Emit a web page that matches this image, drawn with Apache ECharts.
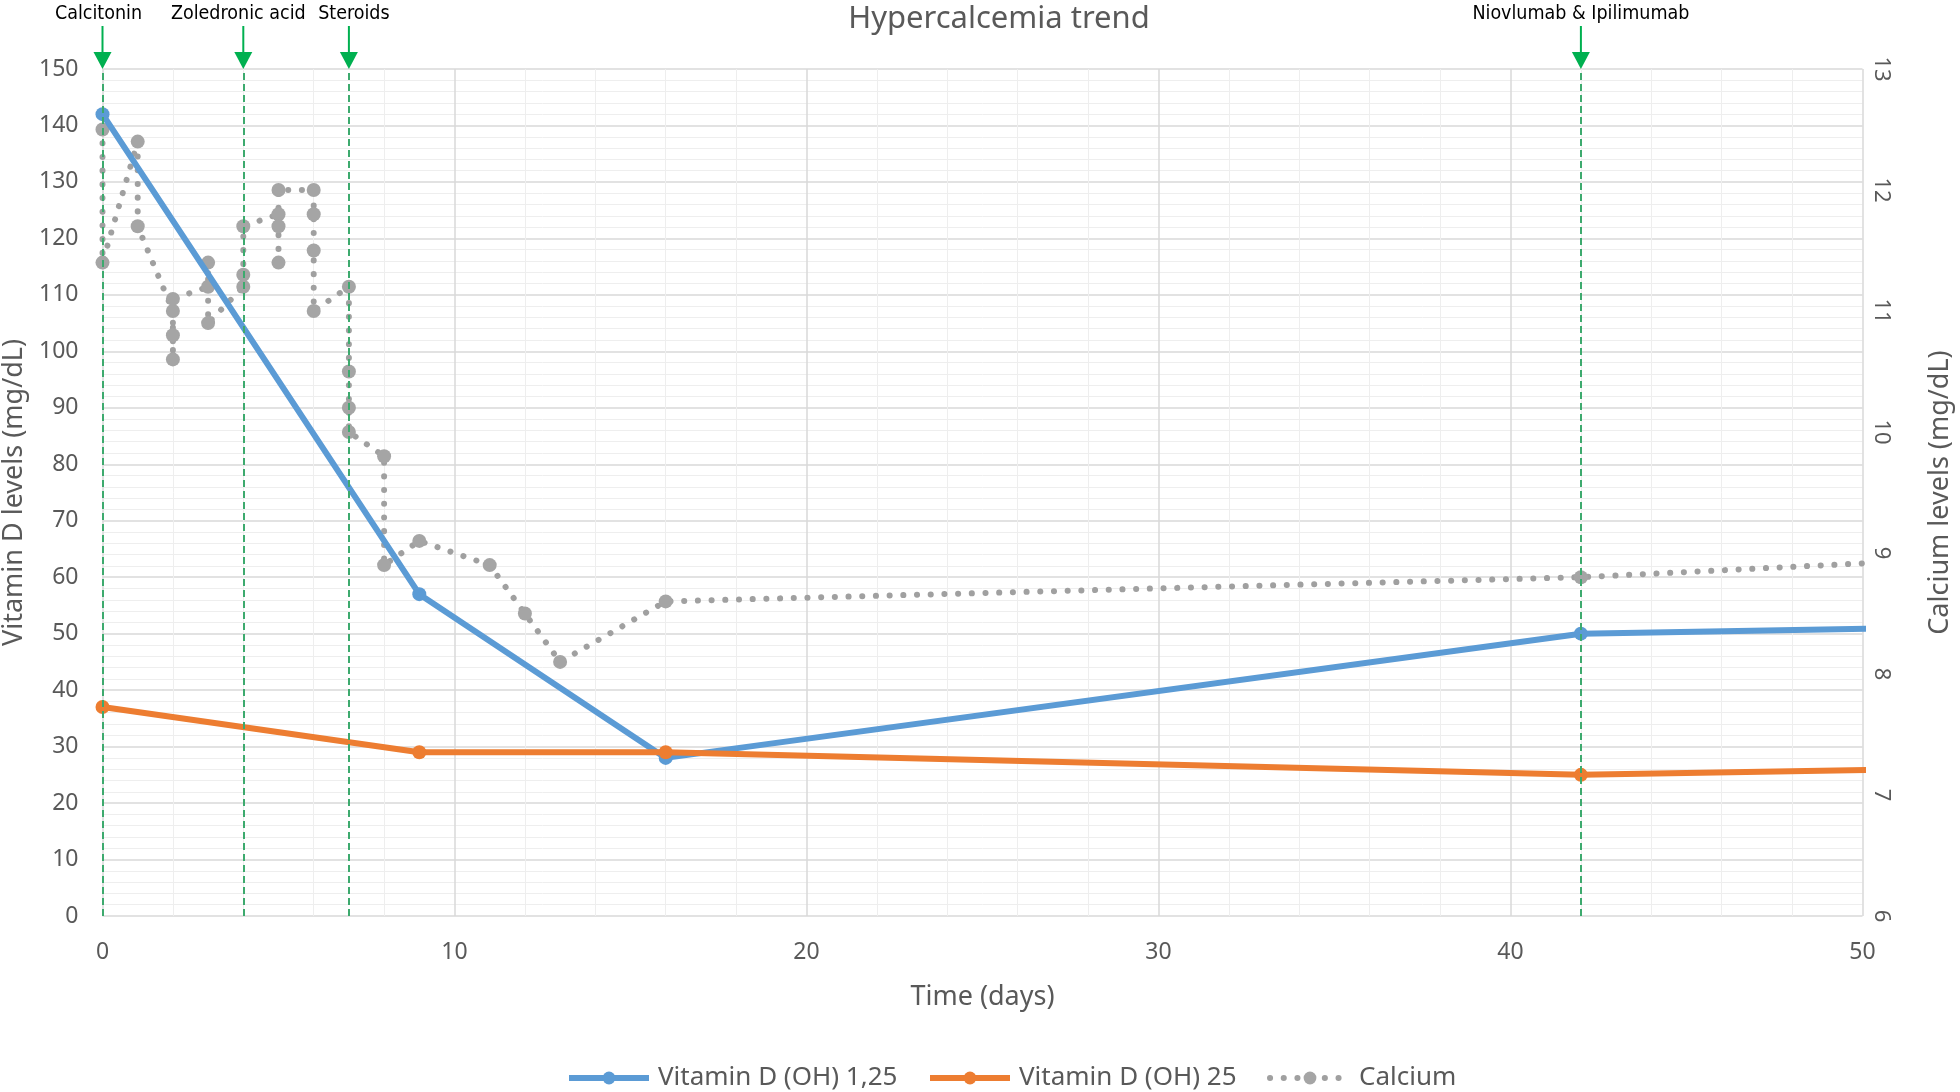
<!DOCTYPE html>
<html>
<head>
<meta charset="utf-8">
<title>Hypercalcemia trend</title>
<script src="https://cdn.jsdelivr.net/npm/echarts@6/dist/echarts.min.js"></script>
<style>
  html, body { margin: 0; padding: 0; background: #fff; }
  #chart { width: 1960px; height: 1092px; }
</style>
</head>
<body>
<div id="chart"></div>
<script>
// Vitamin D (OH) 1,25 - left axis
var vitD125Days = [0, 9, 16, 42, 56];
var vitD125Values = [142, 57, 28, 50, 51.5];

// Vitamin D (OH) 25 - left axis
var vitD25Days = [0, 9, 16, 42, 56];
var vitD25Values = [37, 29, 29, 25, 26.5];

// Calcium - right axis, several readings per day early on (in draw order)
var calciumDays = [0, 0, 1, 1, 2, 2, 2, 2, 3, 3, 3, 4, 4, 4, 5, 5, 5, 5,
  6, 6, 6, 6, 7, 7, 7, 7, 8, 8, 9, 11, 12, 13, 16, 42, 56];
var calciumValues = [12.5, 11.4, 12.4, 11.7, 11.0, 10.8, 10.6, 11.1, 11.2, 11.4, 10.9,
  11.2, 11.3, 11.7, 11.8, 11.7, 11.4, 12.0, 12.0, 11.8, 11.5, 11.0, 11.2, 10.5, 10.2,
  10.0, 9.8, 8.9, 9.1, 8.9, 8.5, 8.1, 8.6, 8.8, 9.0];

// treatments marked on the timeline
var treatmentNames = ["Calcitonin", "Zoledronic acid", "Steroids", "Niovlumab & Ipilimumab"];
var treatmentDays = [0, 4, 7, 42];

var seriesNames = ["Vitamin D (OH) 1,25", "Vitamin D (OH) 25", "Calcium"];

function pairs(xs, ys) {
  return xs.map(function (x, i) {
    return [x, ys[i]];
  });
}

var chart = echarts.init(document.getElementById("chart"));

var labelColor = "#595959";
var font = "Noto Sans";

// legend entries sit at uneven spots like in the original
var legendLefts = [561, 922, 1262];
var legends = seriesNames.map(function (name, i) {
  return {
    data: [name],
    left: legendLefts[i],
    top: 1060,
    itemWidth: 80,
    itemHeight: 16,
    lineStyle: { width: 6 },
    textStyle: { fontSize: 26, color: labelColor, fontFamily: font, padding: [0, 0, 0, 4] },
  };
});

var option = {
  animation: false,
  title: {
    text: "Hypercalcemia trend",
    left: 994,
    top: -1,
    textAlign: "center",
    textStyle: { fontSize: 31, fontWeight: "normal", color: labelColor, fontFamily: font },
  },
  legend: legends,
  grid: { left: 102.5, right: 97.5, top: 69, bottom: 176, outerBoundsMode: "none" },
  xAxis: {
    type: "value",
    min: 0,
    max: 50,
    interval: 10,
    name: "Time (days)",
    nameLocation: "middle",
    nameGap: 68,
    nameTextStyle: { fontSize: 27, color: labelColor, fontFamily: font },
    axisLine: { show: false },
    axisTick: { show: false },
    axisLabel: { fontSize: 23, color: labelColor, fontFamily: font, margin: 25 },
    splitLine: { show: true, lineStyle: { color: "#d9d9d9", width: 1.5 } },
    minorTick: { show: false, splitNumber: 5 },
    minorSplitLine: { show: true, lineStyle: { color: "#eeeeee", width: 1 } },
  },
  yAxis: [
    {
      type: "value",
      min: 0,
      max: 150,
      interval: 10,
      name: "Vitamin D levels (mg/dL)",
      nameLocation: "middle",
      nameRotate: 90,
      nameGap: 68,
      nameTextStyle: { fontSize: 27, color: labelColor, fontFamily: font },
      axisLine: { show: false },
      axisTick: { show: false },
      axisLabel: { fontSize: 23, color: labelColor, fontFamily: font, margin: 24 },
      splitLine: { show: true, lineStyle: { color: "#d9d9d9", width: 1.5 } },
      minorTick: { show: false, splitNumber: 5 },
      minorSplitLine: { show: true, lineStyle: { color: "#eeeeee", width: 1 } },
    },
    {
      type: "value",
      position: "right",
      min: 6,
      max: 13,
      interval: 1,
      name: "Calcium levels (mg/dL)",
      nameLocation: "middle",
      nameRotate: 90,
      nameGap: 64,
      nameTextStyle: { fontSize: 27, color: labelColor, fontFamily: font },
      axisLine: { show: false },
      axisTick: { show: false },
      axisLabel: { fontSize: 22, color: labelColor, fontFamily: font, margin: 8, rotate: -90 },
      splitLine: { show: false },
    },
  ],
  series: [
    {
      name: seriesNames[0],
      type: "line",
      data: pairs(vitD125Days, vitD125Values),
      symbol: "circle",
      symbolSize: 14,
      clip: true,
      lineStyle: { color: "#5B9BD5", width: 6 },
      itemStyle: { color: "#5B9BD5" },
      z: 3,
    },
    {
      name: seriesNames[1],
      type: "line",
      data: pairs(vitD25Days, vitD25Values),
      symbol: "circle",
      symbolSize: 14,
      clip: true,
      lineStyle: { color: "#ED7D31", width: 6 },
      itemStyle: { color: "#ED7D31" },
      z: 4,
    },
    {
      name: seriesNames[2],
      type: "line",
      yAxisIndex: 1,
      data: pairs(calciumDays, calciumValues),
      symbol: "circle",
      symbolSize: 14,
      clip: true,
      lineStyle: { color: "#A0A0A0", width: 6, type: [0.1, 13.6], cap: "round" },
      itemStyle: { color: "#A5A5A5" },
      z: 2,
    },
    {
      // treatment start lines
      name: "treatments",
      type: "line",
      data: [],
      silent: true,
      z: 10,
      markLine: {
        silent: true,
        symbol: "none",
        label: { show: false },
        lineStyle: { color: "#3DAA6E", width: 2, type: [7, 4] },
        data: treatmentDays.map(function (d) {
          return { xAxis: d };
        }),
      },
    },
  ],
};

chart.setOption(option);

// arrows + labels above the plot for each treatment
var plotTop = chart.convertToPixel({ yAxisIndex: 0 }, 150);
var labelShift = [-4, -5, 5, 0];
var graphics = [];
treatmentDays.forEach(function (d, i) {
  var x = chart.convertToPixel({ xAxisIndex: 0 }, d);
  graphics.push({
    type: "text",
    x: x + labelShift[i],
    y: 14,
    style: {
      text: treatmentNames[i],
      fill: "#000",
      fontSize: 19.5,
      fontFamily: "DejaVu Sans Condensed",
      align: "center",
      verticalAlign: "middle",
    },
  });
  graphics.push({
    type: "line",
    shape: { x1: x, y1: 26, x2: x, y2: plotTop - 16 },
    style: { stroke: "#00B050", lineWidth: 2 },
  });
  graphics.push({
    type: "polygon",
    shape: { points: [[x - 9, plotTop - 17], [x + 9, plotTop - 17], [x, plotTop]] },
    style: { fill: "#00B050" },
  });
});
chart.setOption({ graphic: graphics });
</script>
</body>
</html>
